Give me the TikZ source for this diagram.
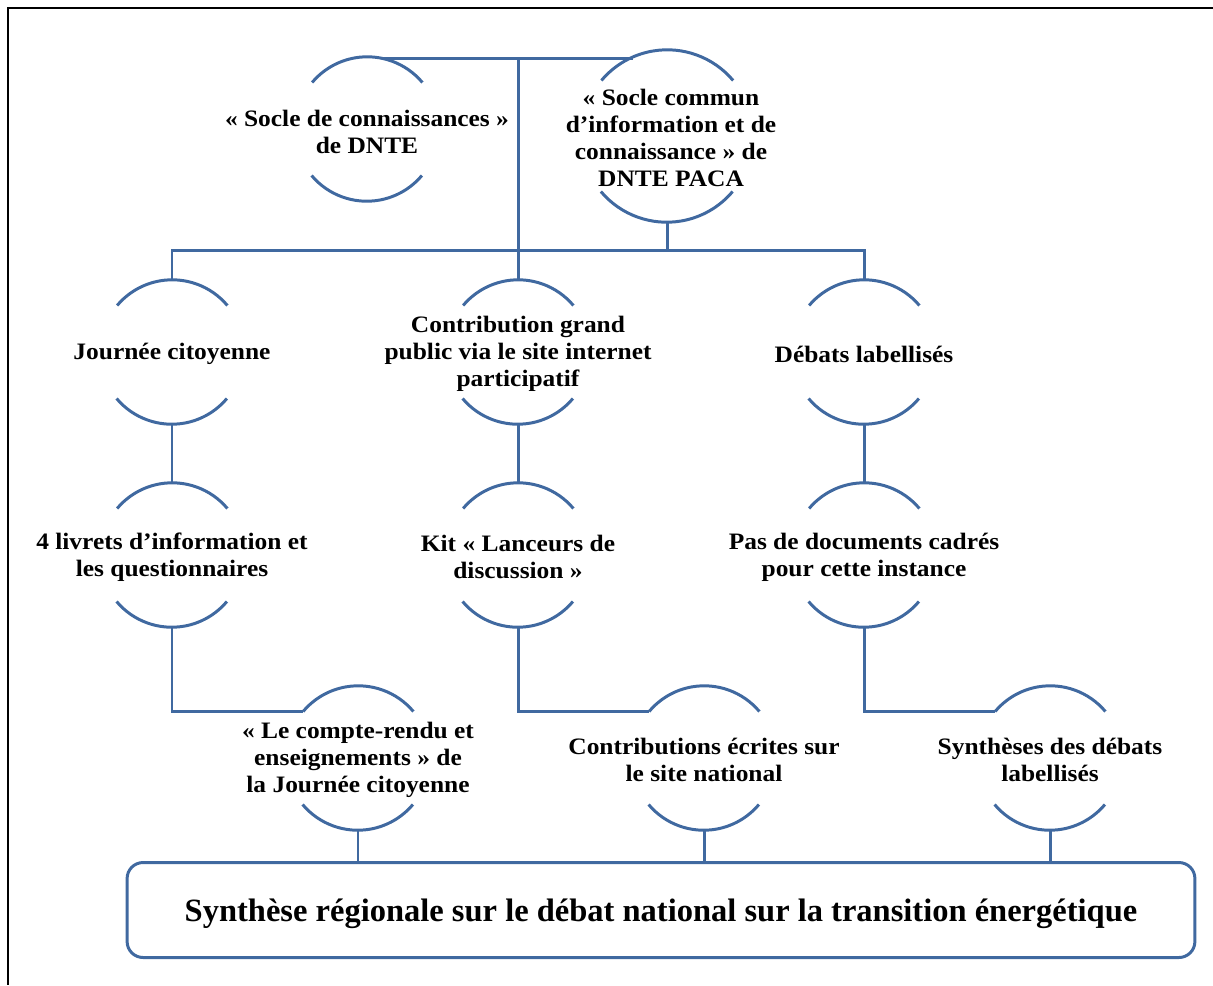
\documentclass[tikz,border=0pt]{standalone}
\usepackage{fontspec}
\setmainfont{Liberation Serif}
\newfontfamily\largeserif[FakeStretch=1.08]{Liberation Serif}
\usepackage{tikz}
\definecolor{bleu}{HTML}{4069A0}
\tikzstyle{ligne}=[draw=bleu, line width=1.7pt]
\tikzstyle{rond}=[circle, inner sep=0pt, minimum size=2.88cm]
\tikzstyle{grandrond}=[circle, inner sep=0pt, minimum size=3.44cm]
\tikzstyle{texte}=[align=center, inner sep=0pt, font=\largeserif\bfseries\fontsize{13.4}{15.3}\selectfont]
\tikzstyle{boite}=[draw=bleu, line width=1.7pt, rounded corners=0.32cm, minimum width=21.36cm, minimum height=1.9cm, text depth=0pt, font=\bfseries\fontsize{18.5}{21}\selectfont]

\begin{document}
\begin{tikzpicture}[x=0.02cm, y=-0.02cm]
			\useasboundingbox (0,0) rectangle (1213,985);
			\draw[line width=1.5pt] (1213,8) -- (8,8) -- (8,985);
			% cercles
			\node[rond] (socle1) at (367,129) {};
			\node[grandrond] (socle2) at (667,136) {};
			\node[rond] (jour) at (172,352) {};
			\node[rond] (contrib) at (518,352) {};
			\node[rond] (debats) at (864,352) {};
			\node[rond] (livrets) at (172,555) {};
			\node[rond] (kit) at (518,555) {};
			\node[rond] (pas) at (864,555) {};
			\node[rond] (compte) at (358,758) {};
			\node[rond] (ecrites) at (704,758) {};
			\node[rond] (syntheses) at (1050,758) {};
			\node[boite] (synth) at (661,910) {Synthèse régionale sur le débat national sur la transition énergétique};
			% textes
			\node[texte] (socle1-t) at (367,132) {« Socle de connaissances »\\de DNTE};
			\node[texte] (socle2-t) at (671,138) {« Socle commun\\d’information et de\\connaissance » de\\DNTE PACA};
			\node[texte] (jour-t) at (172,354) {Journée citoyenne};
			\node[texte] (contrib-t) at (518,354) {Contribution grand\\public via le site internet\\participatif};
			\node[texte] (debats-t) at (864,354) {Débats labellisés};
			\node[texte] (livrets-t) at (172,557) {4 livrets d’information et\\les questionnaires};
			\node[texte] (kit-t) at (518,557) {Kit « Lanceurs de\\discussion »};
			\node[texte] (pas-t) at (864,557) {Pas de documents cadrés\\pour cette instance};
			\node[texte] (compte-t) at (358,760) {« Le compte-rendu et\\enseignements » de\\la Journée citoyenne};
			\node[texte] (ecrites-t) at (704,760) {Contributions écrites sur\\le site national};
			\node[texte] (syntheses-t) at (1050,760) {Synthèses des débats\\labellisés};
			% arcs
			\foreach \n/\r in {socle1/1.44, socle2/1.72, jour/1.44, contrib/1.44, debats/1.44, livrets/1.44, kit/1.44, pas/1.44, compte/1.44, ecrites/1.44, syntheses/1.44}{
				\draw[ligne] (\n.40) arc[start angle=40, end angle=140, radius=\r cm];
				\draw[ligne] (\n.220) arc[start angle=220, end angle=320, radius=\r cm];
			}
			% liaisons
			\coordinate (haut) at (contrib.north |- socle1.78);
			\coordinate (bus) at (518,250);
			\path[ligne] (socle1.78) -- (socle1.78 -| socle2.113);
			\path[ligne] (haut) -- (contrib.north);
			\path[ligne] (socle2.south) -- (socle2.south |- bus);
			\path[ligne] (jour.north) |- (bus) -| (debats.north);
			\path[ligne] (jour.south) -- (livrets.north) (contrib.south) -- (kit.north) (debats.south) -- (pas.north);
			\path[ligne] (livrets.south) |- (compte.140) (kit.south) |- (ecrites.140) (pas.south) |- (syntheses.140);
			\path[ligne] (compte.south) -- (compte.south |- synth.north) (ecrites.south) -- (ecrites.south |- synth.north) (syntheses.south) -- (syntheses.south |- synth.north);
		\end{tikzpicture}
\end{document}
